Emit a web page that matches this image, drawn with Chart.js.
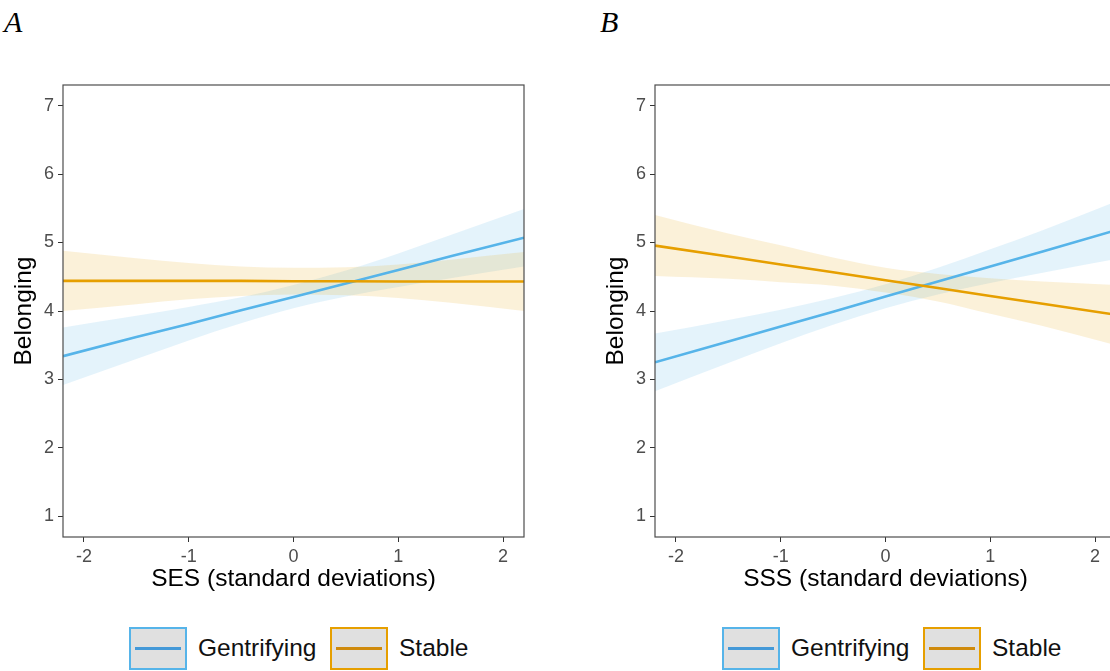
<!DOCTYPE html>
<html><head><meta charset="utf-8">
<script src="https://cdn.jsdelivr.net/npm/chart.js@4/dist/chart.umd.min.js"></script>
<style>
html,body{margin:0;padding:0;background:#fff;overflow:hidden;width:1110px;height:671px;}
body{position:relative;font-family:"Liberation Sans",Arial,sans-serif;}
canvas{position:absolute;top:0;}
.tag{position:absolute;top:7px;font-family:"Liberation Serif","Times New Roman",serif;font-style:italic;font-size:30px;line-height:30px;color:#000;}
.key{position:absolute;top:627px;width:54px;height:39px;border:2px solid;background:#e0e0e0;}
.key i{position:absolute;left:4px;right:4px;top:18px;height:2.6px;}
.lab{position:absolute;top:632px;font-size:24.5px;line-height:32px;color:#111;white-space:nowrap;}
</style>
</head><body>
<div class="tag" style="left:4px">A</div>
<div class="tag" style="left:600px">B</div>
<canvas id="cA" width="545" height="600" style="left:0px"></canvas>
<canvas id="cB" width="545" height="600" style="left:592px"></canvas>

<div class="key" style="left:129px;border-color:#56B4E9"><i style="background:#4499d8"></i></div>
<div class="lab" style="left:198px">Gentrifying</div>
<div class="key" style="left:330px;border-color:#E69F00"><i style="background:#cf8a0c"></i></div>
<div class="lab" style="left:399px">Stable</div>

<div class="key" style="left:722px;border-color:#56B4E9"><i style="background:#4499d8"></i></div>
<div class="lab" style="left:791px">Gentrifying</div>
<div class="key" style="left:923px;border-color:#E69F00"><i style="background:#cf8a0c"></i></div>
<div class="lab" style="left:992px">Stable</div>

<script>
// ---- data ----
const xTicks = [-2, -1, 0, 1, 2];
const yTicks = [1, 2, 3, 4, 5, 6, 7];
const xGrid = [-2.2, -1.5, -1, -0.5, 0, 0.5, 1, 1.5, 2.2];

// Panel A: SES
const sesGentFit = [3.34, 3.62, 3.81, 4.01, 4.205, 4.40, 4.60, 4.80, 5.07];
const sesGentHi  = [3.76, 3.93, 4.06, 4.20, 4.38, 4.59, 4.84, 5.11, 5.49];
const sesGentLo  = [2.92, 3.30, 3.57, 3.82, 4.04, 4.21, 4.35, 4.48, 4.65];
const sesStabFit = [4.44, 4.44, 4.44, 4.44, 4.435, 4.435, 4.43, 4.43, 4.43];
const sesStabHi  = [4.88, 4.77, 4.70, 4.65, 4.63, 4.64, 4.68, 4.75, 4.86];
const sesStabLo  = [4.00, 4.10, 4.17, 4.22, 4.24, 4.23, 4.19, 4.12, 4.00];

// Panel B: SSS
const sssGentFit = [3.25, 3.555, 3.775, 3.99, 4.21, 4.43, 4.65, 4.87, 5.18];
const sssGentHi  = [3.67, 3.87, 4.02, 4.19, 4.39, 4.63, 4.90, 5.18, 5.60];
const sssGentLo  = [2.83, 3.24, 3.53, 3.80, 4.04, 4.24, 4.41, 4.56, 4.76];
const sssStabFit = [4.955, 4.795, 4.68, 4.565, 4.45, 4.335, 4.22, 4.105, 3.945];
const sssStabHi  = [5.40, 5.13, 4.96, 4.78, 4.63, 4.54, 4.48, 4.43, 4.38];
const sssStabLo  = [4.51, 4.47, 4.42, 4.37, 4.27, 4.14, 3.96, 3.78, 3.50];

const BLUE = '#56B4E9', ORANGE = '#E69F00';
const BLUE_BAND = 'rgba(86,180,233,0.16)', ORANGE_BAND = 'rgba(230,159,0,0.15)';
const FAM = '"Liberation Sans", Arial, sans-serif';

const borderPlugin = {
  id: 'panelBorder',
  afterDraw(chart) {
    const a = chart.chartArea, ctx = chart.ctx;
    ctx.save();
    ctx.strokeStyle = '#4d4d4d';
    ctx.lineWidth = 1.2;
    ctx.strokeRect(a.left, a.top, a.right - a.left, a.bottom - a.top);
    ctx.restore();
  }
};

function pts(arr) { return xGrid.map((x, i) => ({x: x, y: arr[i]})); }

function band(arr, color, fill, order) {
  return {label: '', data: pts(arr), borderColor: 'transparent', borderWidth: 0,
    backgroundColor: color, pointRadius: 0, fill: fill, order: order,
    cubicInterpolationMode: 'monotone'};
}
function line(label, arr, color, order) {
  return {label: label, data: pts(arr), borderColor: color, borderWidth: 2.6,
    pointRadius: 0, fill: false, order: order};
}

function makePanel(id, gF, gH, gL, sF, sH, sL, xTitle) {
  new Chart(document.getElementById(id), {
    type: 'line',
    data: {datasets: [
      line('Stable', sF, ORANGE, 0),
      line('Gentrifying', gF, BLUE, 1),
      band(sH, ORANGE_BAND, '+1', 2),
      band(sL, 'transparent', false, 3),
      band(gH, BLUE_BAND, '+1', 4),
      band(gL, 'transparent', false, 5)
    ]},
    options: {
      responsive: false, animation: false, devicePixelRatio: 1,
      layout: {padding: {top: 85, right: 21, left: 0, bottom: 0}},
      plugins: {legend: {display: false}, tooltip: {enabled: false},
        filler: {propagate: false, drawTime: 'beforeDatasetsDraw'}},
      scales: {
        x: {type: 'linear', min: -2.2, max: 2.2,
          afterBuildTicks: s => { s.ticks = xTicks.map(v => ({value: v})); },
          afterFit: s => { s.height = 63; },
          grid: {drawOnChartArea: false, drawTicks: true, tickLength: 5, color: '#333', lineWidth: 1},
          border: {display: false},
          ticks: {font: {size: 18, family: FAM}, color: '#4d4d4d', padding: 4, maxRotation: 0, autoSkip: false,
            callback: v => String(v)},
          title: {display: true, text: xTitle, color: '#000', font: {size: 24.5, family: FAM},
            padding: {top: 0, bottom: 6}}
        },
        y: {type: 'linear', min: 0.7, max: 7.3,
          afterBuildTicks: s => { s.ticks = yTicks.map(v => ({value: v})); },
          afterFit: s => { s.width = 63; },
          grid: {drawOnChartArea: false, drawTicks: true, tickLength: 5, color: '#333', lineWidth: 1},
          border: {display: false},
          ticks: {font: {size: 18, family: FAM}, color: '#4d4d4d', padding: 4, autoSkip: false,
            callback: v => String(v)},
          title: {display: true, text: 'Belonging', color: '#000', font: {size: 24.5, family: FAM},
            padding: {top: 10, bottom: 0}}
        }
      }
    },
    plugins: [borderPlugin]
  });
}

makePanel('cA', sesGentFit, sesGentHi, sesGentLo, sesStabFit, sesStabHi, sesStabLo, 'SES (standard deviations)');
makePanel('cB', sssGentFit, sssGentHi, sssGentLo, sssStabFit, sssStabHi, sssStabLo, 'SSS (standard deviations)');
</script>
</body></html>
